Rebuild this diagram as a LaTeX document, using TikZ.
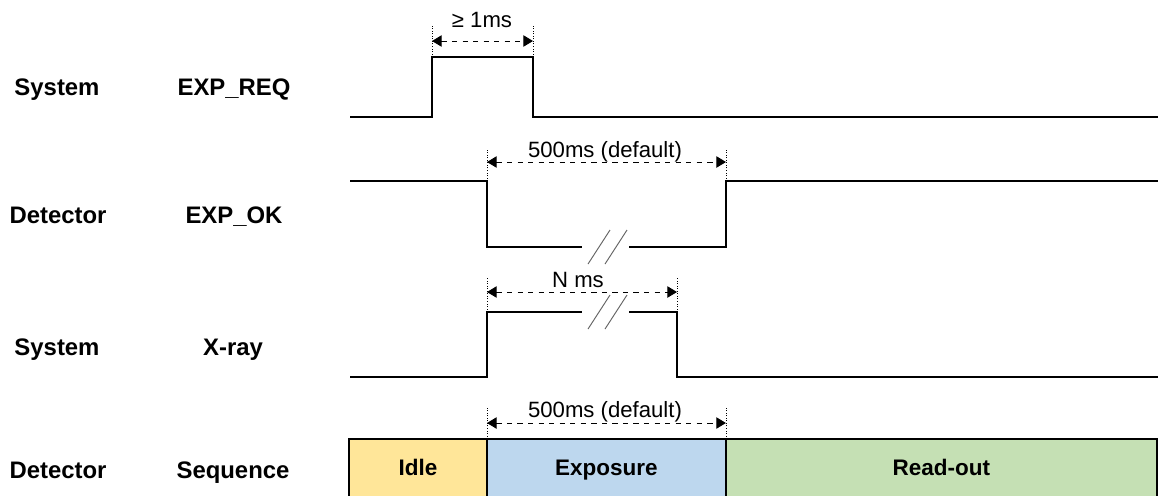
\documentclass[tikz,border=0pt]{standalone}
\usepackage{fontspec}
\setmainfont{Liberation Sans}
\usepackage{xcolor}
\usetikzlibrary{arrows.meta, positioning, calc}

\definecolor{idlefill}{HTML}{FFE699}
\definecolor{exposefill}{HTML}{BDD7EE}
\definecolor{readfill}{HTML}{C5E0B4}

\begin{document}
\begin{tikzpicture}[
    x=0.02cm, y=-0.02cm,
    font=\fontsize{12.6}{15}\selectfont,
    signal/.style={line width=1.2pt, draw=black},
    guide/.style={densely dotted, line width=0.45pt},
    dim/.style={{Triangle[length=5.5pt, width=6.5pt]}-{Triangle[length=5.5pt, width=6.5pt]}, dashed, line width=0.55pt},
    dimlabel/.style={anchor=base, inner sep=0pt},
    rowname/.style={anchor=base, inner sep=0pt, font=\fontsize{13.6}{16}\selectfont\bfseries},
    brk/.style={draw=gray!80!black, line width=0.55pt},
    phase/.style={
        rectangle, draw=black, line width=1pt, outer sep=0pt, minimum height=1.16cm,
        text height=0.72em, text depth=0pt, font=\fontsize{12.8}{15}\selectfont\bfseries
    }
]
\useasboundingbox (0,0) rectangle (1158,495);

% Row labels
\node[rowname] (sysreq) at (57,95) {System};
\node[rowname] (expreq) at (234,95) {EXP\_REQ};
\node[rowname] (detok) at (58,223) {Detector};
\node[rowname] (expok) at (234,223) {EXP\_OK};
\node[rowname] (sysray) at (57,355) {System};
\node[rowname] (xray) at (233,355) {X-ray};
\node[rowname] (detseq) at (58,478) {Detector};
\node[rowname] (seq) at (233,478) {Sequence};

% EXP_REQ signal
\coordinate (reqon) at (432,57);
\coordinate (reqoff) at (533,57);
\draw[signal] (350,117) -| (reqon) -- (reqoff) |- (1158,117);
\draw[guide] (reqon) -- ++(0,-32);
\draw[guide] (reqoff) -- ++(0,-32);
\draw[dim] ($(reqon)+(0,-16)$) -- ($(reqoff)+(0,-16)$);
\node[dimlabel] (reqtime) at (482,27) {≥ 1ms};

% EXP_OK signal
\coordinate (okon) at (487,181);
\coordinate (okoff) at (726,181);
\draw[signal] (350,181) -- (okon) -- (487,247) -- (582,247);
\draw[signal] (629,247) -- (726,247) -- (okoff) -- (1158,181);
\draw[brk] (588,264) -- (610,230);
\draw[brk] (605,264) -- (627,230);
\draw[guide] (okon) -- ++(0,-33);
\draw[guide] (okoff) -- ++(0,-33);
\draw[dim] ($(okon)+(0,-19)$) -- ($(okoff)+(0,-19)$);
\node[dimlabel] (oktime) at (605,157) {500ms (default)};

% X-ray signal
\coordinate (rayon) at (487,312);
\coordinate (rayoff) at (677,312);
\draw[signal] (350,377) -| (rayon) -- (582,312);
\draw[signal] (629,312) -- (rayoff) |- (1158,377);
\draw[brk] (588,329) -- (610,295);
\draw[brk] (605,329) -- (627,295);
\draw[guide] (rayon) -- ++(0,-34);
\draw[guide] (rayoff) -- ++(0,-34);
\draw[dim] ($(rayon)+(0,-20)$) -- ($(rayoff)+(0,-20)$);
\node[dimlabel] (raytime) at (578,287) {N ms};

% Sequence
\node[phase, fill=idlefill, minimum width=2.76cm, minimum height=1.22cm, anchor=north west] (idle) at (349,439) {Idle};
\node[phase, fill=exposefill, minimum width=4.78cm, minimum height=1.22cm, right=0pt of idle] (exposure) {Exposure};
\node[phase, fill=readfill, minimum width=8.62cm, minimum height=1.22cm, right=0pt of exposure] (readout) {Read-out};
\draw[guide] (exposure.north west) -- ++(0,-32);
\draw[guide] (exposure.north east) -- ++(0,-32);
\draw[dim] ($(exposure.north west)+(0,-16)$) -- ($(exposure.north east)+(0,-16)$);
\node[dimlabel] (seqtime) at (605,417) {500ms (default)};

\end{tikzpicture}
\end{document}
